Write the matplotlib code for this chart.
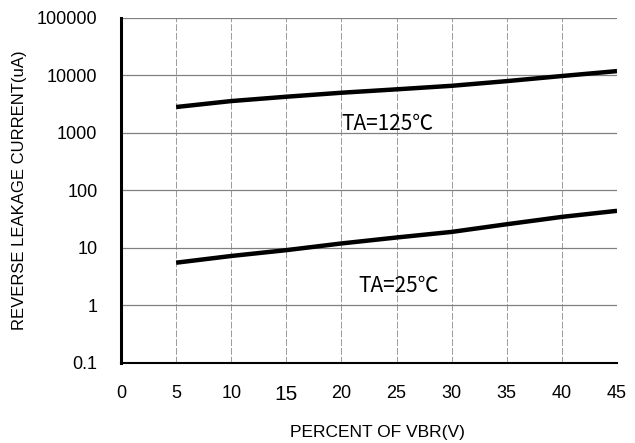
import matplotlib
matplotlib.use("Agg")
import matplotlib.pyplot as plt
from matplotlib.ticker import FixedLocator, FixedFormatter

x_vals = [5, 10, 15, 20, 25, 30, 35, 40, 45]
i_125 = [2820, 3580, 4260, 5000, 5730, 6600, 7960, 9770, 11900]
i_25 = [5.5, 7.2, 9.1, 11.9, 15.1, 18.9, 25.7, 34.5, 44]
x_ticks = [0, 5, 10, 15, 20, 25, 30, 35, 40, 45]
x_tick_labels = ["0", "5", "10", "15", "20", "25", "30", "35", "40", "45"]
y_ticks = [0.1, 1, 10, 100, 1000, 10000, 100000]
y_tick_labels = ["0.1", "1", "10", "100", "1000", "10000", "100000"]

plt.rcParams['font.family'] = ['Liberation Sans', 'DejaVu Sans']

fig = plt.figure(figsize=(6.35, 4.43), dpi=100)
ax = fig.add_axes([0.1906, 0.1813, 0.7811, 0.7781])

ax.set_yscale('log')
ax.set_xlim(0, 45)
ax.set_ylim(0.1, 100000)

for xv in x_ticks[1:]:
    ax.axvline(xv, color='#9a9a9a', lw=0.7, ls=(0, (7, 2)), zorder=1)
for yv in y_ticks[1:]:
    ax.axhline(yv, color='#808080', lw=0.9, zorder=1)

ax.plot(x_vals, i_125, color='black', lw=3.2, solid_capstyle='butt', zorder=3)
ax.plot(x_vals, i_25, color='black', lw=3.2, solid_capstyle='butt', zorder=3)

ax.yaxis.set_major_locator(FixedLocator(y_ticks))
ax.yaxis.set_major_formatter(FixedFormatter(y_tick_labels))
ax.yaxis.set_minor_locator(FixedLocator([]))
ax.xaxis.set_major_locator(FixedLocator(x_ticks))
ax.xaxis.set_major_formatter(FixedFormatter(x_tick_labels))

ax.tick_params(axis='both', length=0, labelsize=13)
ax.tick_params(axis='y', pad=17)
ax.tick_params(axis='x', pad=16)
for lbl in ax.get_xticklabels():
    if lbl.get_text() == "15":
        lbl.set_fontsize(15)

for s in ['top', 'right']:
    ax.spines[s].set_visible(False)
ax.spines['left'].set_linewidth(2.2)
ax.spines['left'].set_linestyle((0, (4, 1)))
ax.spines['bottom'].set_linewidth(1.5)

ax.text(20.0, 1400, "TA=125℃", fontsize=15, va='center', ha='left',
        family=['Noto Sans CJK SC', 'DejaVu Sans'], zorder=4)
ax.text(21.5, 2.2, "TA=25℃", fontsize=15, va='center', ha='left',
        family=['Noto Sans CJK SC', 'DejaVu Sans'], zorder=4)

fig.text(20/635, 1 - 190/443, "REVERSE LEAKAGE CURRENT(uA)", rotation=90,
         ha='center', va='center', fontsize=12)
fig.text(377/635, 1 - 432/443, "PERCENT OF VBR(V)", ha='center', va='center',
         fontsize=12.5)

fig.savefig("out.png", dpi=100)
